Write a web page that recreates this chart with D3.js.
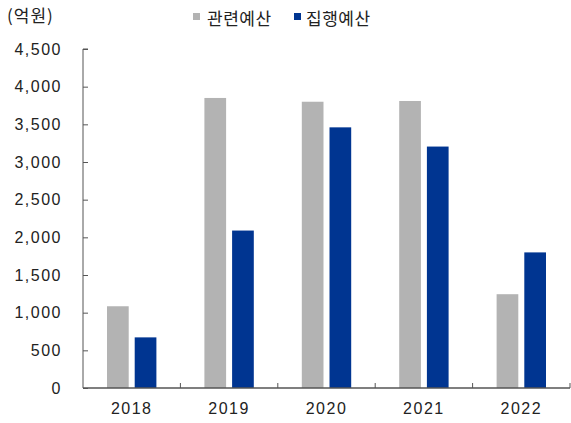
<!DOCTYPE html>
<html><head><meta charset="utf-8">
<script src="https://cdn.jsdelivr.net/npm/d3@7"></script>
<style>body{margin:0;background:#fff}svg{display:block}</style>
</head><body>
<svg id="c" width="571" height="423"></svg>
<script>
const years = ["2018","2019","2020","2021","2022"];
const related = [1085, 3850, 3800, 3810, 1245];
const executed = [672, 2090, 3460, 3205, 1800];
const seriesNames = ["관련예산","집행예산"];
const yTicks = [0,500,1000,1500,2000,2500,3000,3500,4000,4500];
const colors = ["#b3b3b3","#003591"];

const svg = d3.select("#c");
const L = 83, R = 570, T = 49, B = 388;
const x = d3.scaleBand().domain(years).range([L, R]).paddingInner(0).paddingOuter(0);
const y = d3.scaleLinear().domain([0,4500]).range([B, T]);
const bw = 21.7, gap = 6;
const numFont = "'Liberation Sans', Arial, sans-serif";
const korFont = "'Noto Sans CJK KR', sans-serif";

// y axis
const ya = svg.append("g").attr("transform",`translate(${L},0)`)
  .call(d3.axisRight(y).tickValues(yTicks).tickSize(5).tickFormat(d3.format(",")));
ya.select(".domain").attr("stroke","#555").attr("d",`M5,${T}H0V${B}`);
ya.selectAll(".tick line").attr("stroke","#555");
ya.selectAll(".tick text").attr("x",-21).attr("text-anchor","end")
  .attr("font-family",numFont).attr("font-size",16).attr("letter-spacing","1.5px").attr("fill","#222");

// bars
const g = svg.append("g");
years.forEach((yr,i)=>{
  const cx = x(yr) + x.bandwidth()/2;
  [related[i], executed[i]].forEach((v,j)=>{
    g.append("rect")
      .attr("x", j===0 ? cx - gap/2 - bw : cx + gap/2)
      .attr("y", y(v)).attr("width", bw).attr("height", B - y(v))
      .attr("fill", colors[j]);
  });
});

// x axis
const xa = svg.append("g").attr("transform",`translate(0,${B})`);
xa.append("line").attr("x1",L).attr("x2",R).attr("stroke","#555").attr("stroke-width",1.3);
years.forEach((yr,i)=>{
  const xe = x(yr) + x.bandwidth();
  xa.append("line").attr("x1",xe).attr("x2",xe).attr("y1",0).attr("y2",-5).attr("stroke","#555");
  xa.append("text").attr("x", x(yr)+x.bandwidth()/2).attr("y",26)
    .attr("text-anchor","middle").attr("font-family",numFont).attr("font-size",16)
    .attr("letter-spacing","1.5px").attr("fill","#222").text(yr);
});

// unit
svg.append("text").attr("x",7).attr("y",22).attr("font-family",korFont)
  .attr("font-size",17).attr("letter-spacing","1px").attr("fill","#222").text("(억원)");

// legend
const lg = [[193,207],[294,306]];
seriesNames.forEach((n,j)=>{
  svg.append("rect").attr("x",lg[j][0]).attr("y",13).attr("width",7).attr("height",7).attr("fill",colors[j]);
  svg.append("text").attr("x",lg[j][1]).attr("y",25).attr("font-family",korFont)
    .attr("font-size",17).attr("letter-spacing","0.5px").attr("fill","#222").text(n);
});
</script>
</body></html>
